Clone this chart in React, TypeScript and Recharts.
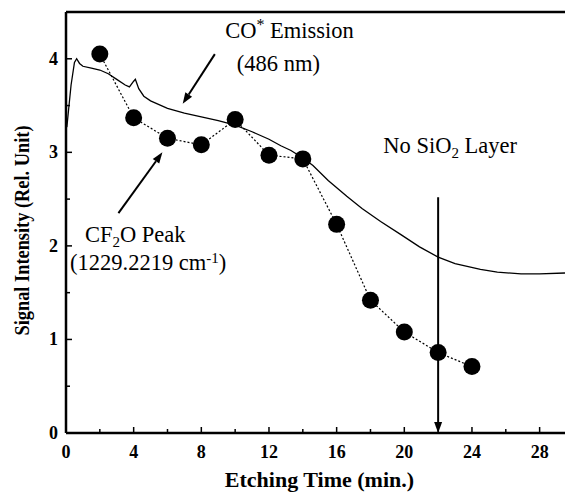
import React from "react";
import {
  ComposedChart,
  Line,
  XAxis,
  YAxis,
  ReferenceLine,
  ReferenceDot,
} from "recharts";

const FONT = "'Liberation Serif', 'Times New Roman', 'DejaVu Serif', serif";

// CO* emission trace (486 nm)
const emissionTime = [0.05, 0.15, 0.3, 0.5, 0.63, 0.8, 1.0, 1.5, 2.0, 2.5, 3.0, 3.5, 3.75, 4.0, 4.1, 4.3, 4.6, 5.0, 5.5, 6.0, 7.0, 8.0, 9.0, 10.0, 11.0, 12.0, 12.7, 13.3, 14.0, 14.6, 15.5, 16.6, 17.5, 18.6, 19.8, 20.9, 22.0, 23.0, 24.5, 25.5, 26.9, 28.0, 29.5];
const emissionValue = [3.27, 3.45, 3.72, 3.96, 4.0, 3.95, 3.92, 3.9, 3.88, 3.84, 3.78, 3.72, 3.7, 3.76, 3.78, 3.68, 3.6, 3.55, 3.51, 3.47, 3.42, 3.38, 3.34, 3.29, 3.22, 3.14, 3.07, 3.02, 2.94, 2.86, 2.7, 2.53, 2.4, 2.26, 2.12, 1.99, 1.88, 1.81, 1.75, 1.72, 1.7, 1.7, 1.71];

// CF2O peak (1229.2219 cm-1)
const peakTime = [2, 4, 6, 8, 10, 12, 14, 16, 18, 20, 22, 24];
const peakValue = [4.05, 3.37, 3.15, 3.08, 3.35, 2.97, 2.93, 2.23, 1.42, 1.08, 0.86, 0.71];

const xTicks = [0, 2, 4, 6, 8, 10, 12, 14, 16, 18, 20, 22, 24, 26, 28];
const xLabelTicks = [0, 4, 8, 12, 16, 20, 24, 28];
const yTicks = [0, 0.5, 1, 1.5, 2, 2.5, 3, 3.5, 4];
const yLabelTicks = [0, 1, 2, 3, 4];

const emissionData = emissionTime.map((t, i) => ({ t, v: emissionValue[i] }));
const peakData = peakTime.map((t, i) => ({ t, v: peakValue[i] }));

const ANN_SIZE = 22.5;

const XTick = (props: any) => {
  const { x, y, payload } = props;
  const major = xLabelTicks.includes(payload.value);
  return (
    <g>
      <line x1={x} x2={x} y1={y} y2={y - (major ? 6 : 4)} stroke="#000" strokeWidth={1.5} />
      {major && (
        <text x={x} y={y + 25} textAnchor="middle" fontFamily={FONT} fontWeight="bold" fontSize={18} fill="#000">
          {payload.value}
        </text>
      )}
    </g>
  );
};

const YTick = (props: any) => {
  const { x, y, payload } = props;
  const major = yLabelTicks.includes(payload.value);
  return (
    <g>
      <line x1={x} x2={x + (major ? 6 : 4)} y1={y} y2={y} stroke="#000" strokeWidth={1.5} />
      {major && (
        <text x={x - 8} y={y + 6} textAnchor="end" fontFamily={FONT} fontWeight="bold" fontSize={18} fill="#000">
          {payload.value}
        </text>
      )}
    </g>
  );
};

const arrowShape = (props: any) => {
  const { x1, y1, x2, y2 } = props;
  if ([x1, y1, x2, y2].some((v) => v === undefined || isNaN(v))) return <g />;
  const dx = x2 - x1;
  const dy = y2 - y1;
  const len = Math.sqrt(dx * dx + dy * dy) || 1;
  const ux = dx / len;
  const uy = dy / len;
  const hl = 11;
  const hw = 4;
  const bx = x2 - ux * hl;
  const by = y2 - uy * hl;
  const px = -uy * hw;
  const py = ux * hw;
  return (
    <g>
      <line x1={x1} y1={y1} x2={bx} y2={by} stroke="#000" strokeWidth={2} />
      <polygon points={`${x2},${y2} ${bx + px},${by + py} ${bx - px},${by - py}`} fill="#000" />
    </g>
  );
};

const makeLabel = (content: React.ReactNode) => (props: any) => {
  const { cx, cy } = props;
  return (
    <text x={cx} y={cy} fontFamily={FONT} fontSize={ANN_SIZE} fill="#000">
      {content}
    </text>
  );
};

export default function App() {
  return (
    <div style={{ position: "absolute", left: 0, top: 0, background: "#fff" }}>
      <ComposedChart
        width={565}
        height={493}
        margin={{ top: 12, right: 0, bottom: 0, left: 0 }}
      >
        <XAxis
          dataKey="t"
          type="number"
          domain={[0, 29.5]}
          ticks={xTicks}
          interval={0}
          tickSize={0}
          tickMargin={0}
          tickLine={false}
          height={60}
          axisLine={{ stroke: "#000", strokeWidth: 2.5 }}
          tick={<XTick />}
          allowDataOverflow
          label={(p: any) => {
            const vb = p.viewBox;
            return (
              <text x={vb.x + vb.width / 2 + 4} y={vb.y + 54} textAnchor="middle" fontFamily={FONT} fontWeight="bold" fontSize={22} fill="#000">
                Etching Time (min.)
              </text>
            );
          }}
        />
        <YAxis
          dataKey="v"
          type="number"
          domain={[0, 4.5]}
          ticks={yTicks}
          interval={0}
          tickSize={0}
          tickMargin={0}
          tickLine={false}
          width={66}
          axisLine={{ stroke: "#000", strokeWidth: 2.5 }}
          tick={<YTick />}
          allowDataOverflow
          label={(p: any) => {
            const vb = p.viewBox;
            const cx = 29;
            const cy = vb.y + vb.height / 2 + 8;
            return (
              <text
                x={cx}
                y={cy}
                transform={`rotate(-90 ${cx} ${cy})`}
                textAnchor="middle"
                fontFamily={FONT}
                fontWeight="bold"
                fontSize={21}
                textLength={210}
                lengthAdjust="spacingAndGlyphs"
                fill="#000"
              >
                Signal Intensity (Rel. Unit)
              </text>
            );
          }}
        />
        <ReferenceLine y={4.5} stroke="#000" strokeWidth={2.5} />
        <Line
          data={emissionData}
          dataKey="v"
          type="linear"
          stroke="#000"
          strokeWidth={1.3}
          dot={false}
          isAnimationActive={false}
        />
        <Line
          data={peakData}
          dataKey="v"
          type="linear"
          stroke="#000"
          strokeWidth={1.2}
          strokeDasharray="2 2"
          dot={{ r: 8.5, fill: "#000", stroke: "#000", strokeDasharray: "", strokeWidth: 0 }}
          isAnimationActive={false}
        />
        <ReferenceLine segment={[{ x: 8.8, y: 4.05 }, { x: 6.9, y: 3.52 }]} shape={arrowShape} />
        <ReferenceLine segment={[{ x: 3.1, y: 2.35 }, { x: 5.7, y: 3.0 }]} shape={arrowShape} />
        <ReferenceLine segment={[{ x: 22, y: 2.52 }, { x: 22, y: 0 }]} shape={arrowShape} />
        <ReferenceDot
          x={9.41}
          y={4.22}
          r={0}
          shape={makeLabel(
            <>
              CO<tspan dy={-8} fontSize={16}>*</tspan>
              <tspan dy={8}> Emission</tspan>
            </>
          )}
        />
        <ReferenceDot x={10.1} y={3.87} r={0} shape={makeLabel("(486 nm)")} />
        <ReferenceDot
          x={18.76}
          y={2.99}
          r={0}
          shape={makeLabel(
            <>
              No SiO<tspan dy={5} fontSize={15}>2</tspan>
              <tspan dy={-5}> Layer</tspan>
            </>
          )}
        />
        <ReferenceDot
          x={1.12}
          y={2.04}
          r={0}
          shape={makeLabel(
            <>
              CF<tspan dy={5} fontSize={15}>2</tspan>
              <tspan dy={-5}>O Peak</tspan>
            </>
          )}
        />
        <ReferenceDot
          x={0.24}
          y={1.74}
          r={0}
          shape={makeLabel(
            <>
              (1229.2219 cm<tspan dy={-7} fontSize={15}>-1</tspan>
              <tspan dy={7}>)</tspan>
            </>
          )}
        />
      </ComposedChart>
    </div>
  );
}
